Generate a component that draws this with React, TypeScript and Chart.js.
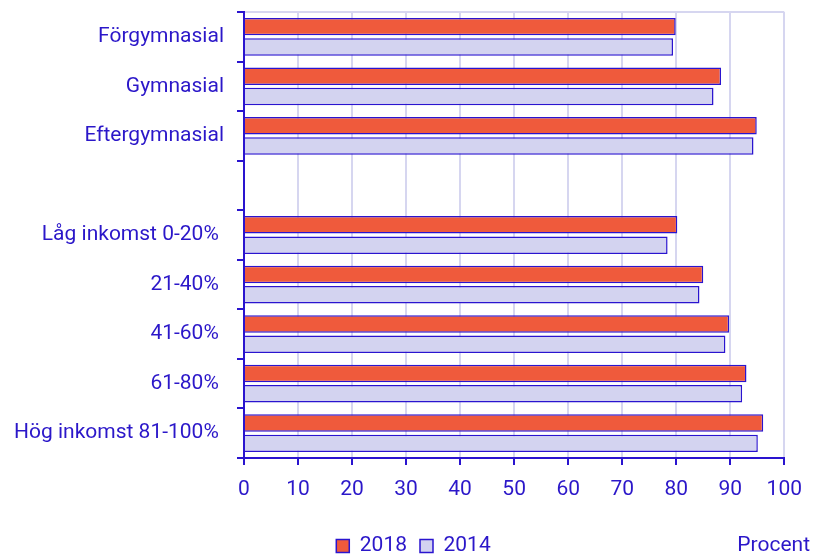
import React, { useEffect, useRef } from "react";
import { Chart, registerables } from "chart.js";

Chart.register(...registerables);

const categories = [
  "Förgymnasial",
  "Gymnasial",
  "Eftergymnasial",
  "",
  "Låg inkomst 0-20% ",
  "21-40% ",
  "41-60% ",
  "61-80% ",
  "Hög inkomst 81-100% ",
];
const values2018 = [79.9, 88.3, 94.9, null, 80.2, 85.0, 89.8, 93.0, 96.1];
const values2014 = [79.4, 86.9, 94.3, null, 78.4, 84.3, 89.1, 92.2, 95.1];
const xTicks = [0, 10, 20, 30, 40, 50, 60, 70, 80, 90, 100];

const TEXT = "#2b17c9";
const LINE = "#2a14cf";
const GRID = "#d6d6f0";
const RED = "#ef5a3c";
const LAV = "#d3d3f0";
const FONT = "Roboto, 'Noto Sans', sans-serif";
const FS = 21;

export default function App() {
  const ref = useRef<HTMLCanvasElement | null>(null);
  useEffect(() => {
    document.body.style.margin = "0";
    const layoutPlugin = {
      id: "fixLegend",
      beforeLayout(chart: any) {
        const lg = chart.legend;
        if (lg && !lg.__patched) {
          const orig = lg.fit.bind(lg);
          lg.fit = function () {
            orig();
            this.height = 46;
          };
          lg.__patched = true;
        }
      },
      afterLayout(chart: any) {
        const lg = chart.legend;
        if (lg) {
          lg.left = lg.left + 42;
          lg.width = lg.right - lg.left;
        }
      },
      afterDraw(chart: any) {
        const ctx = chart.ctx;
        const boxes = chart.legend?.legendHitBoxes;
        if (!boxes || !boxes.length) return;
        const y = boxes[0].top + boxes[0].height / 2;
        ctx.save();
        ctx.font = `${FS}px ${FONT}`;
        ctx.fillStyle = TEXT;
        ctx.textAlign = "right";
        ctx.textBaseline = "middle";
        ctx.fillText("Procent", chart.width - 4, y);
        ctx.restore();
      },
    };
    const chart = new Chart(ref.current!, {
      type: "bar",
      data: {
        labels: categories,
        datasets: [
          {
            label: "2018",
            data: values2018 as any,
            backgroundColor: RED,
            borderColor: LINE,
            borderWidth: 1.5,
            categoryPercentage: 0.82,
            barPercentage: 0.86,
          },
          {
            label: "2014",
            data: values2014 as any,
            backgroundColor: LAV,
            borderColor: LINE,
            borderWidth: 1.5,
            categoryPercentage: 0.82,
            barPercentage: 0.86,
          },
        ],
      },
      options: {
        indexAxis: "y",
        animation: false,
        responsive: false,
        layout: { padding: { top: 12, right: 29, left: 0, bottom: 0 } },
        scales: {
          x: {
            min: 0,
            max: 100,
            afterBuildTicks(scale: any) {
              scale.ticks = xTicks.map((v) => ({ value: v }));
            },
            afterFit(scale: any) {
              scale.height = 50;
            },
            ticks: { color: TEXT, font: { family: FONT, size: FS }, padding: 12 },
            grid: {
              color: GRID,
              lineWidth: 2,
              tickColor: LINE,
              tickLength: 7,
              drawTicks: true,
            },
            border: { color: LINE, width: 2 },
          },
          y: {
            afterFit(scale: any) {
              scale.width = 244;
              scale.paddingTop = 0;
              scale.paddingBottom = 0;
            },
            ticks: { color: TEXT, font: { family: FONT, size: FS }, padding: 13 },
            grid: {
              offset: true,
              drawOnChartArea: true,
              color: (c: any) => (c.index === 0 ? GRID : "rgba(0,0,0,0)"),
              lineWidth: 2,
              tickColor: LINE,
              tickLength: 7,
            },
            border: { color: LINE, width: 2 },
          },
        },
        plugins: {
          legend: {
            position: "bottom",
            title: { display: true, text: "", padding: 0 },
            labels: {
              color: TEXT,
              font: { family: FONT, size: FS },
              boxWidth: 13,
              boxHeight: 13,
              padding: 13,
            },
          },
          tooltip: { enabled: false },
        },
      },
      plugins: [layoutPlugin],
    });
    return () => chart.destroy();
  }, []);
  return (
    <div style={{ position: "absolute", left: 0, top: 0, width: 814, height: 554 }}>
      <canvas ref={ref} width={814} height={554} />
    </div>
  );
}
